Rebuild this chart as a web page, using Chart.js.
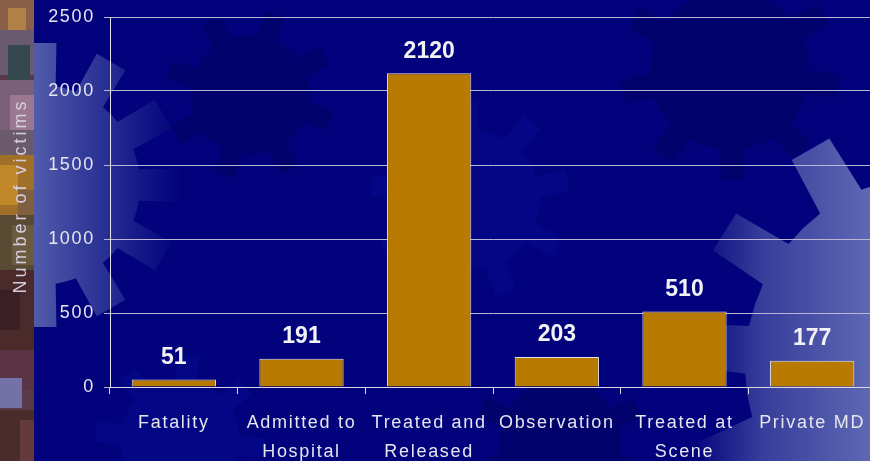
<!DOCTYPE html>
<html>
<head>
<meta charset="utf-8">
<script src="https://cdn.jsdelivr.net/npm/chart.js@4/dist/chart.umd.min.js"></script>
<style>
  html, body { margin: 0; padding: 0; background: #02037c; overflow: hidden; }
  #wrap { width: 870px; height: 461px; overflow: hidden; position: relative; }
  canvas { display: block; }
</style>
</head>
<body>
<div id="wrap"><canvas id="chart" width="876" height="461"></canvas></div>
<script>
// Outcome categories (multi-line labels) and number of victims in each
const categories = [
  ['Fatality'],
  ['Admitted to', 'Hospital'],
  ['Treated and', 'Released'],
  ['Observation'],
  ['Treated at', 'Scene'],
  ['Private MD']
];
const victims = [51, 191, 2120, 203, 510, 177];
const yTicks = [0, 500, 1000, 1500, 2000, 2500];
const yTitle = 'Number of victims';

const FONT = '"Liberation Sans", Arial, Helvetica, sans-serif';

// Draws a cog outline: n teeth between inner radius r1 and outer radius r2
function gearPath(ctx, cx, cy, r1, r2, n, rot, wIn, wOut) {
  const step = Math.PI * 2 / n;
  wIn = (wIn || 0.22) * step;
  wOut = (wOut || 0.15) * step;
  ctx.beginPath();
  for (let k = 0; k < n; k++) {
    const a = rot + k * step;
    const pts = [
      [r1, a - step / 2],
      [r1, a - wIn],
      [r2, a - wOut],
      [r2, a + wOut],
      [r1, a + wIn]
    ];
    pts.forEach(([r, ang], i) => {
      const x = cx + r * Math.cos(ang), y = cy + r * Math.sin(ang);
      if (k === 0 && i === 0) ctx.moveTo(x, y); else ctx.lineTo(x, y);
    });
  }
  ctx.closePath();
}

const backdrop = {
  id: 'backdrop',
  beforeDraw(chart) {
    const ctx = chart.ctx;
    const W = chart.width, H = chart.height;
    ctx.save();
    ctx.letterSpacing = '0px';
    ctx.fillStyle = '#02037c';
    ctx.fillRect(0, 0, W, H);

    // faint darker and lighter cogs behind the plot
    ctx.fillStyle = 'rgba(0,0,70,0.28)';
    gearPath(ctx, 250, 95, 60, 85, 8, 0.3); ctx.fill();
    gearPath(ctx, 730, 70, 80, 110, 9, 0.15); ctx.fill();
    gearPath(ctx, 560, 440, 60, 85, 8, 0.4); ctx.fill();
    ctx.fillStyle = 'rgba(10,20,170,0.22)';
    gearPath(ctx, 470, 200, 70, 100, 9, 0.5); ctx.fill();
    gearPath(ctx, 180, 440, 60, 85, 8, 0.1); ctx.fill();

    // light cog on the right edge
    let g = ctx.createLinearGradient(690, 0, 870, 0);
    g.addColorStop(0, 'rgba(90,100,175,0)');
    g.addColorStop(0.4, 'rgba(90,100,175,0.6)');
    g.addColorStop(1, 'rgba(94,104,180,1)');
    ctx.fillStyle = g;
    gearPath(ctx, 935, 365, 190, 250, 13, -2.094, 0.26, 0.18);
    ctx.fill();

    // light cog on the left edge
    g = ctx.createLinearGradient(34, 0, 182, 0);
    g.addColorStop(0, 'rgba(82,92,170,1)');
    g.addColorStop(0.5, 'rgba(60,70,160,0.65)');
    g.addColorStop(1, 'rgba(40,50,150,0)');
    ctx.fillStyle = g;
    gearPath(ctx, 40, 185, 100, 143, 12, -Math.PI / 2, 0.3, 0.22);
    ctx.fill();

    // textured strip down the left edge
    const strip = [
      [0, 0, 34, 461, '#5a3a48'],
      [0, 0, 34, 30, '#8a6048'],
      [8, 8, 18, 22, '#b08048'],
      [0, 30, 34, 45, '#6a5a70'],
      [8, 45, 22, 35, '#34484e'],
      [0, 80, 34, 50, '#7a6078'],
      [10, 95, 24, 40, '#9a7890'],
      [0, 130, 34, 25, '#6a5a6a'],
      [0, 155, 34, 60, '#a07028'],
      [0, 165, 18, 40, '#c08828'],
      [18, 190, 16, 30, '#806040'],
      [0, 215, 34, 55, '#5a4a34'],
      [12, 225, 22, 40, '#6a5a40'],
      [0, 270, 34, 80, '#4a2a2a'],
      [0, 290, 20, 40, '#3a2024'],
      [0, 350, 34, 40, '#5a3444'],
      [0, 378, 22, 30, '#7470a8'],
      [0, 410, 34, 51, '#4a2c2c'],
      [20, 420, 14, 41, '#643a3a']
    ];
    strip.forEach(([x, y, w, h, c]) => { ctx.fillStyle = c; ctx.fillRect(x, y, w, h); });
    ctx.restore();
    // axis text is spaced out a little
    ctx.letterSpacing = '1.7px';
  },
  afterDraw(chart) {
    // rotated y-axis caption beside the tick labels
    const ctx = chart.ctx;
    ctx.save();
    ctx.translate(21, 196);
    ctx.rotate(-Math.PI / 2);
    ctx.letterSpacing = '3px';
    ctx.font = '18px ' + FONT;
    ctx.fillStyle = '#d6cede';
    ctx.textAlign = 'center';
    ctx.textBaseline = 'middle';
    ctx.fillText(yTitle, 0, 0);
    ctx.restore();
  }
};

// Bold value printed above each bar
const valueLabels = {
  id: 'valueLabels',
  afterDatasetsDraw(chart) {
    const ctx = chart.ctx;
    const meta = chart.getDatasetMeta(0);
    ctx.save();
    ctx.letterSpacing = '0px';
    ctx.font = 'bold 23px ' + FONT;
    ctx.fillStyle = '#f2f2f6';
    ctx.textAlign = 'center';
    ctx.textBaseline = 'middle';
    meta.data.forEach((bar, i) => {
      ctx.fillText(String(victims[i]), bar.x, bar.y - 22);
    });
    ctx.restore();
  }
};

new Chart(document.getElementById('chart'), {
  type: 'bar',
  data: {
    labels: categories,
    datasets: [{
      data: victims,
      backgroundColor: '#b87a00',
      borderColor: '#e4e4e8',
      borderWidth: 1,
      barPercentage: 0.66,
      categoryPercentage: 1
    }]
  },
  options: {
    responsive: false,
    devicePixelRatio: 1,
    animation: false,
    layout: { padding: { top: 17, left: 0, right: 0, bottom: 0 } },
    plugins: { legend: { display: false }, tooltip: { enabled: false } },
    scales: {
      x: {
        grid: { drawOnChartArea: false, drawTicks: true, tickLength: 7, color: '#d8d8e4', offset: true },
        border: { color: '#d8d8e4', width: 1 },
        ticks: {
          color: '#e6e6ee',
          font: { family: FONT, size: 18, lineHeight: 1.61 },
          padding: 15,
          maxRotation: 0,
          autoSkip: false
        },
        afterFit(scale) { scale.height = 74; }
      },
      y: {
        min: 0,
        max: 2500,
        afterBuildTicks(scale) { scale.ticks = yTicks.map(v => ({ value: v })); },
        grid: { color: '#b8b8d4', lineWidth: 1, tickLength: 6, drawTicks: true },
        border: { color: '#e4e4ec', width: 1 },
        ticks: {
          color: '#e6e6ee',
          font: { family: FONT, size: 18 },
          padding: 9,
          callback: (v) => String(v)
        },
        title: { display: false, text: yTitle },
        afterFit(scale) {
          scale.width = 110;
          // the top label may sit in the outer padding
          scale.paddingTop = 0;
          scale.paddingBottom = 0;
        }
      }
    }
  },
  plugins: [backdrop, valueLabels]
});
</script>
</body>
</html>
